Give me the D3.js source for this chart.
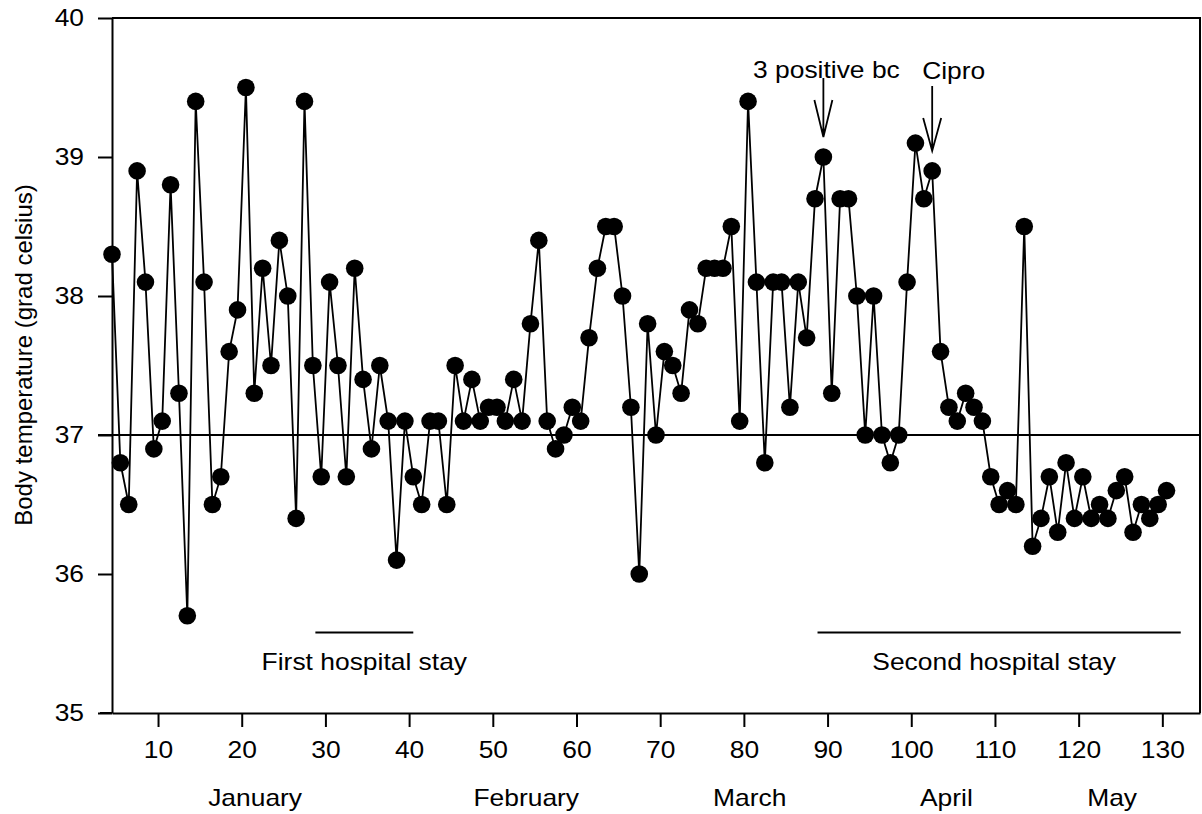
<!DOCTYPE html>
<html>
<head>
<meta charset="utf-8">
<script src="https://cdn.jsdelivr.net/npm/d3@7"></script>
<style>
  body { margin: 0; background: #fff; }
  svg { display: block; font-family: "Liberation Sans", Arial, sans-serif; }
</style>
</head>
<body>
<svg width="1202" height="814"></svg>
<script>
// daily temperatures, first reading on day 4.5
var firstDay = 4.5;
var temps = [
  38.3, 36.8, 36.5, 38.9, 38.1, 36.9, 37.1, 38.8, 37.3, 35.7,
  39.4, 38.1, 36.5, 36.7, 37.6, 37.9, 39.5, 37.3, 38.2, 37.5,
  38.4, 38.0, 36.4, 39.4, 37.5, 36.7, 38.1, 37.5, 36.7, 38.2,
  37.4, 36.9, 37.5, 37.1, 36.1, 37.1, 36.7, 36.5, 37.1, 37.1,
  36.5, 37.5, 37.1, 37.4, 37.1, 37.2, 37.2, 37.1, 37.4, 37.1,
  37.8, 38.4, 37.1, 36.9, 37.0, 37.2, 37.1, 37.7, 38.2, 38.5,
  38.5, 38.0, 37.2, 36.0, 37.8, 37.0, 37.6, 37.5, 37.3, 37.9,
  37.8, 38.2, 38.2, 38.2, 38.5, 37.1, 39.4, 38.1, 36.8, 38.1,
  38.1, 37.2, 38.1, 37.7, 38.7, 39.0, 37.3, 38.7, 38.7, 38.0,
  37.0, 38.0, 37.0, 36.8, 37.0, 38.1, 39.1, 38.7, 38.9, 37.6,
  37.2, 37.1, 37.3, 37.2, 37.1, 36.7, 36.5, 36.6, 36.5, 38.5,
  36.2, 36.4, 36.7, 36.3, 36.8, 36.4, 36.7, 36.4, 36.5, 36.4,
  36.6, 36.7, 36.3, 36.5, 36.4, 36.5, 36.6
];

var xTicks = [10, 20, 30, 40, 50, 60, 70, 80, 90, 100, 110, 120, 130];
var yTicks = [35, 36, 37, 38, 39, 40];

var months = ["January", "February", "March", "April", "May"];
var monthDays = [21.6, 54, 80.7, 104.2, 124];

var stays = ["First hospital stay", "Second hospital stay"];
var stayStart = [28.8, 88.8];
var stayEnd = [40.5, 132.2];
var stayLevel = 35.58;

var notes = ["3 positive bc", "Cipro"];
var noteIndex = [85, 98];

var svg = d3.select("svg");
var x = d3.scaleLinear().domain([4.5, 134.5]).range([112, 1200]);
var y = d3.scaleLinear().domain([35, 40]).range([713, 18]);

var data = temps.map(function(t, i) { return { day: firstDay + i, temp: t }; });

// frame top and right
svg.append("path")
  .attr("d", "M" + x(4.5) + "," + y(40) + "H" + x(134.5) + "V" + y(35))
  .attr("fill", "none").attr("stroke", "#000").attr("stroke-width", 2);

// normal temperature line
svg.append("line")
  .attr("x1", x(4.5) - 14).attr("x2", x(134.5))
  .attr("y1", y(37)).attr("y2", y(37))
  .attr("stroke", "#000").attr("stroke-width", 1.8);

svg.append("g")
  .attr("transform", "translate(" + x(4.5) + ",0)")
  .call(d3.axisLeft(y).tickValues(yTicks).tickFormat(d3.format("d"))
    .tickSize(14).tickSizeOuter(0).tickPadding(14));

svg.append("g")
  .attr("transform", "translate(0," + y(35) + ")")
  .call(d3.axisBottom(x).tickValues(xTicks).tickFormat(d3.format("d"))
    .tickSize(14).tickSizeOuter(0).tickPadding(14));

svg.selectAll(".tick line").attr("stroke-width", 2);
svg.selectAll(".domain").attr("stroke-width", 2);
svg.selectAll(".tick text").attr("font-size", 24).attr("fill", "#000")
  .attr("font-family", "Liberation Sans, Arial, sans-serif");
// bottom axis line reaches the 35 tick
svg.append("line")
  .attr("x1", x(4.5) - 12).attr("x2", x(4.5))
  .attr("y1", y(35)).attr("y2", y(35))
  .attr("stroke", "#000").attr("stroke-width", 2);

svg.append("g").selectAll("text")
  .data(months)
  .enter().append("text")
  .attr("class", "wide")
  .attr("x", function(d, i) { return x(monthDays[i]); })
  .attr("y", 806)
  .attr("text-anchor", "middle")
  .attr("font-size", 24)
  .text(function(d) { return d; });

svg.append("text")
  .attr("transform", "translate(32," + 355 + ") rotate(-90)")
  .attr("text-anchor", "middle")
  .attr("font-size", 24)
  .text("Body temperature (grad celsius)");

// hospital stays
svg.append("g").selectAll("line")
  .data(stays)
  .enter().append("line")
  .attr("x1", function(d, i) { return x(stayStart[i]); })
  .attr("x2", function(d, i) { return x(stayEnd[i]); })
  .attr("y1", y(stayLevel)).attr("y2", y(stayLevel))
  .attr("stroke", "#000").attr("stroke-width", 2);

svg.append("g").selectAll("text")
  .data(stays)
  .enter().append("text")
  .attr("class", "wide")
  .attr("x", function(d, i) { return x((stayStart[i] + stayEnd[i]) / 2 + (i ? -0.6 : 0)); })
  .attr("y", y(stayLevel) + 38)
  .attr("text-anchor", "middle")
  .attr("font-size", 24)
  .text(function(d) { return d; });

// series
var line = d3.line()
  .x(function(d) { return x(d.day); })
  .y(function(d) { return y(d.temp); });

svg.append("path")
  .datum(data)
  .attr("d", line)
  .attr("fill", "none")
  .attr("stroke", "#000")
  .attr("stroke-width", 1.8);

svg.append("g").selectAll("circle")
  .data(data)
  .enter().append("circle")
  .attr("cx", function(d) { return x(d.day); })
  .attr("cy", function(d) { return y(d.temp); })
  .attr("r", 8.8)
  .attr("fill", "#000");

// annotations with arrows
var ann = svg.append("g").selectAll("g")
  .data(notes)
  .enter().append("g")
  .attr("transform", function(d, i) {
    var p = data[noteIndex[i]];
    return "translate(" + x(p.day) + "," + y(p.temp) + ")";
  });

ann.append("path")
  .attr("d", function(d, i) {
    var len = i ? 65 : 59;
    var head = i ? 33 : 37;
    return "M0," + (-20 - len) + "V-20M-9," + (-20 - head) + "L0,-20L9," + (-20 - head);
  })
  .attr("fill", "none")
  .attr("stroke", "#000")
  .attr("stroke-width", 1.8);

ann.append("text")
  .attr("class", "wide")
  .attr("x", function(d, i) { return i ? -10 : 3; })
  .attr("y", function(d, i) { return i ? -92 : -79; })
  .attr("text-anchor", function(d, i) { return i ? "start" : "middle"; })
  .attr("font-size", 24)
  .text(function(d) { return d; });

// the scanned figure is a bit stretched sideways
svg.selectAll(".tick text").classed("wide", true);
svg.selectAll("text.wide").each(function() {
  var w = this.getComputedTextLength();
  d3.select(this).attr("textLength", w * 1.1).attr("lengthAdjust", "spacingAndGlyphs");
});
</script>
</body>
</html>
